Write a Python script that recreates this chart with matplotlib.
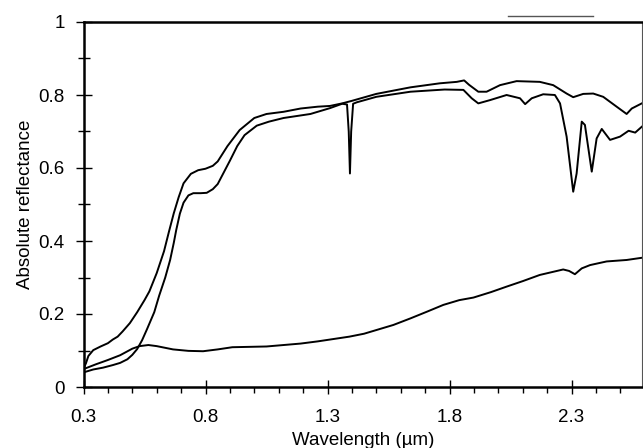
import numpy as np
import matplotlib
matplotlib.use('Agg')
import matplotlib.pyplot as plt
from matplotlib.lines import Line2D
from matplotlib.ticker import MultipleLocator, FixedLocator

# 
# Spectra (wavelength in um, absolute reflectance)
wl_a = [0.30, 0.31, 0.32, 0.34, 0.37, 0.40, 0.42, 0.44, 0.46, 0.49, 0.52, 0.55, 0.57,
        0.60, 0.63, 0.65, 0.67, 0.69, 0.71, 0.74, 0.77, 0.80, 0.83, 0.85, 0.89, 0.94,
        1.00, 1.05, 1.12, 1.19, 1.26, 1.31, 1.36, 1.40, 1.50, 1.64, 1.76, 1.83, 1.86,
        1.88, 1.918, 1.952, 2.007, 2.075, 2.17, 2.225, 2.28, 2.307, 2.348, 2.389,
        2.43, 2.485, 2.526, 2.547, 2.588]
refl_a = [0.050, 0.065, 0.085, 0.101, 0.111, 0.120, 0.130, 0.138, 0.152, 0.175, 0.205,
          0.238, 0.262, 0.312, 0.372, 0.425, 0.476, 0.520, 0.558, 0.584, 0.594, 0.598,
          0.606, 0.618, 0.660, 0.704, 0.737, 0.748, 0.754, 0.763, 0.768, 0.770, 0.777,
          0.784, 0.803, 0.821, 0.832, 0.836, 0.840, 0.828, 0.809, 0.809, 0.827, 0.838,
          0.836, 0.827, 0.804, 0.794, 0.803, 0.804, 0.795, 0.768, 0.748, 0.763, 0.777]

wl_b = [0.30, 0.34, 0.38, 0.42, 0.45, 0.48, 0.50, 0.52, 0.54, 0.56, 0.59, 0.61, 0.635,
        0.655, 0.67, 0.68, 0.695, 0.71, 0.73, 0.75, 0.78, 0.805, 0.83, 0.85, 0.875,
        0.90, 0.93, 0.96, 1.01, 1.06, 1.12, 1.23, 1.31, 1.36, 1.38, 1.387, 1.392,
        1.397, 1.405, 1.42, 1.50, 1.64, 1.78, 1.857, 1.891, 1.918, 1.966, 2.034,
        2.089, 2.11, 2.137, 2.184, 2.232, 2.253, 2.28, 2.307, 2.321, 2.342, 2.355,
        2.383, 2.403, 2.424, 2.458, 2.499, 2.534, 2.561, 2.588]
refl_b = [0.040, 0.048, 0.053, 0.060, 0.066, 0.076, 0.088, 0.104, 0.128, 0.158, 0.205,
          0.250, 0.300, 0.348, 0.395, 0.430, 0.475, 0.505, 0.525, 0.531, 0.531, 0.532,
          0.542, 0.556, 0.588, 0.620, 0.660, 0.690, 0.716, 0.727, 0.737, 0.748, 0.764,
          0.776, 0.774, 0.700, 0.585, 0.700, 0.776, 0.780, 0.795, 0.809, 0.815, 0.814,
          0.791, 0.777, 0.786, 0.800, 0.791, 0.775, 0.791, 0.802, 0.800, 0.777, 0.686,
          0.535, 0.585, 0.727, 0.718, 0.590, 0.681, 0.707, 0.677, 0.686, 0.702, 0.697,
          0.713]

wl_c = [0.30, 0.35, 0.40, 0.45, 0.50, 0.53, 0.566, 0.60, 0.667, 0.73, 0.79, 0.85, 0.91,
        0.98, 1.05, 1.12, 1.19, 1.26, 1.31, 1.39, 1.45, 1.50, 1.57, 1.64, 1.71, 1.775,
        1.84, 1.898, 1.97, 2.034, 2.10, 2.17, 2.266, 2.29, 2.314, 2.342, 2.376, 2.403,
        2.444, 2.526, 2.588]
refl_c = [0.049, 0.062, 0.074, 0.087, 0.105, 0.112, 0.115, 0.112, 0.103, 0.099, 0.098,
          0.103, 0.109, 0.110, 0.111, 0.115, 0.119, 0.125, 0.130, 0.138, 0.146, 0.156,
          0.170, 0.188, 0.207, 0.225, 0.238, 0.245, 0.260, 0.275, 0.290, 0.307, 0.322,
          0.318, 0.309, 0.325, 0.334, 0.338, 0.344, 0.348, 0.354]

x_ticks = [0.3, 0.8, 1.3, 1.8, 2.3]
x_ticklabels = ['0.3', '0.8', '1.3', '1.8', '2.3']
y_ticks = [0, 0.2, 0.4, 0.6, 0.8, 1]
y_ticklabels = ['0', '0.2', '0.4', '0.6', '0.8', '1']

plt.rcParams['font.family'] = ['Liberation Sans', 'DejaVu Sans']
plt.rcParams['font.size'] = 13.5

# 
# Figure
W, H = 643, 448
fig = plt.figure(figsize=(W/100.0, H/100.0), dpi=100)
ax = fig.add_axes([83.5/W, 1-387.0/H, (642.0-83.5)/W, (387.0-22.0)/H])

for wl, refl in [(wl_a, refl_a), (wl_b, refl_b), (wl_c, refl_c)]:
    ax.plot(wl, refl, color='black', lw=1.4, solid_joinstyle='round')

ax.set_xlim(0.3, 0.3 + (642.0-83.5)/244.0)
ax.set_ylim(0, 1)
ax.xaxis.set_major_locator(FixedLocator(x_ticks))
ax.set_xticklabels(x_ticklabels)
ax.xaxis.set_minor_locator(MultipleLocator(0.1))
ax.set_yticks(y_ticks)
ax.set_yticklabels(y_ticklabels)
ax.yaxis.set_minor_locator(MultipleLocator(0.1))

ax.tick_params(axis='x', which='major', direction='inout', length=9.5, width=1, pad=11)
ax.tick_params(axis='x', which='minor', direction='out', length=4.5, width=1)
ax.tick_params(axis='y', which='major', direction='inout', length=12, width=1, pad=7.5)
ax.tick_params(axis='y', which='minor', direction='inout', length=8, width=1)

for s in ['left', 'bottom', 'top']:
    ax.spines[s].set_linewidth(1.8)
ax.spines['right'].set_linewidth(0.8)
ax.spines['right'].set_color('#555555')

ax.set_xlabel('Wavelength (\u00b5m)', labelpad=4.5)
ax.set_ylabel('Absolute reflectance', labelpad=3)

# stray grey line above the frame
fig.add_artist(Line2D([508.0/W, 593.0/W], [1-16.0/H, 1-16.0/H], color='#555555', lw=1.0))

fig.savefig('out.png', dpi=100)
